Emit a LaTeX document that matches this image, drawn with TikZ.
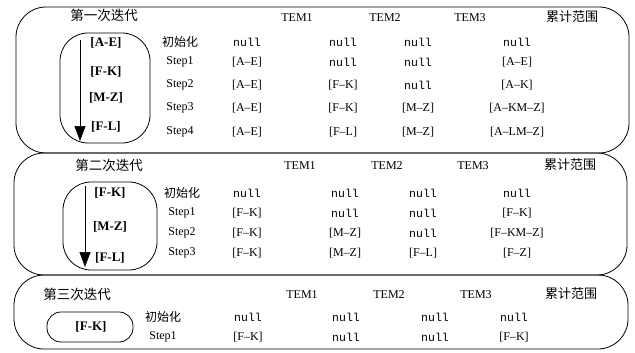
\documentclass[tikz,border=0pt]{standalone}
\usepackage{fontspec}
\setmainfont{Liberation Serif}
\setmonofont{Liberation Mono}
\newfontfamily\cjk{Noto Sans CJK SC}
\usetikzlibrary{arrows.meta}
\begin{document}
\begin{tikzpicture}[x=1pt,y=-1pt,
  frame/.style={draw, line width=0.8pt, rounded corners=30pt},
  lane/.style={draw, line width=0.8pt, rounded corners=28pt},
  pill/.style={draw, line width=0.8pt, rounded corners=14pt},
  title/.style={font=\cjk\fontsize{13.5}{14}\selectfont, inner sep=0pt},
  head/.style={font=\fontsize{12}{12}\selectfont, inner sep=0pt},
  sumhead/.style={font=\cjk\fontsize{13}{14}\selectfont, inner sep=0pt},
  initlbl/.style={font=\cjk\fontsize{12}{13}\selectfont, inner sep=0pt},
  steplbl/.style={font=\fontsize{12}{13}\selectfont, inner sep=0pt},
  cell/.style={font=\fontsize{12}{13}\selectfont, inner sep=0pt},
  nullcell/.style={font=\ttfamily\fontsize{11.5}{12}\selectfont, inner sep=0pt},
  seglabel/.style={font=\bfseries\fontsize{13}{14}\selectfont, inner sep=0pt},
  flow/.style={line width=0.7pt, -{Triangle[length=15pt,width=11pt]}}
]
\useasboundingbox (0,0) rectangle (635,353);

% ---------- outer frames ----------
\draw[frame] (16,7) rectangle (629,153);
\draw[frame] (14,153) rectangle (627,275);
\draw[frame] (14,275) rectangle (628,349);

% ---------- iteration 1 ----------
\node[title] (t1) at (104,15) {第一次迭代};
\node[head] (h1a) at (297,18) {TEM1};
\node[head] (h1b) at (385,18) {TEM2};
\node[head] (h1c) at (470,18) {TEM3};
\node[sumhead] (h1d) at (572,17) {累计范围};

\draw[lane] (60,33) rectangle (150,143);
\node[seglabel] (q1a) at (106,43) {[A-E]};
\node[seglabel] (q1b) at (106,72) {[F-K]};
\node[seglabel] (q1c) at (106,98) {[M-Z]};
\node[seglabel] (q1d) at (106,127) {[F-L]};
\coordinate (f1s) at (80,40);
\coordinate (f1e) at (80,141);
\draw[flow] (f1s) -- (f1e);

\node[initlbl] (l10) at (180,42) {初始化};
\node[steplbl] (l11) at (180,62) {Step1};
\node[steplbl] (l12) at (180,85) {Step2};
\node[steplbl] (l13) at (180,108) {Step3};
\node[steplbl] (l14) at (180,132) {Step4};

\node[nullcell] (c10a) at (247,42) {null};
\node[nullcell] (c10b) at (343,42) {null};
\node[nullcell] (c10c) at (418,42) {null};
\node[nullcell] (c10d) at (517,42) {null};

\node[cell] (c11a) at (247,62) {[A–E]};
\node[nullcell] (c11b) at (343,62) {null};
\node[nullcell] (c11c) at (418,62) {null};
\node[cell] (c11d) at (517,62) {[A–E]};

\node[cell] (c12a) at (247,85) {[A–E]};
\node[cell] (c12b) at (343,85) {[F–K]};
\node[nullcell] (c12c) at (418,85) {null};
\node[cell] (c12d) at (517,85) {[A–K]};

\node[cell] (c13a) at (247,108) {[A–E]};
\node[cell] (c13b) at (343,108) {[F–K]};
\node[cell] (c13c) at (418,108) {[M–Z]};
\node[cell] (c13d) at (517,108) {[A–KM–Z]};

\node[cell] (c14a) at (247,132) {[A–E]};
\node[cell] (c14b) at (343,132) {[F–L]};
\node[cell] (c14c) at (418,132) {[M–Z]};
\node[cell] (c14d) at (517,132) {[A–LM–Z]};

% ---------- iteration 2 ----------
\node[title] (t2) at (109,165) {第二次迭代};
\node[head] (h2a) at (300,166) {TEM1};
\node[head] (h2b) at (387,166) {TEM2};
\node[head] (h2c) at (473,166) {TEM3};
\node[sumhead] (h2d) at (570,165) {累计范围};

\draw[lane] (63,182) rectangle (157,270);
\node[seglabel] (q2a) at (110,193) {[F-K]};
\node[seglabel] (q2b) at (110,227) {[M-Z]};
\node[seglabel] (q2c) at (110,258) {[F-L]};
\coordinate (f2s) at (85,186);
\coordinate (f2e) at (85,267);
\draw[flow] (f2s) -- (f2e);

\node[initlbl] (l20) at (182,193) {初始化};
\node[steplbl] (l21) at (182,213) {Step1};
\node[steplbl] (l22) at (182,233) {Step2};
\node[steplbl] (l23) at (182,253) {Step3};

\node[nullcell] (c20a) at (247,193) {null};
\node[nullcell] (c20b) at (345,193) {null};
\node[nullcell] (c20c) at (423,193) {null};
\node[nullcell] (c20d) at (517,193) {null};

\node[cell] (c21a) at (247,213) {[F–K]};
\node[nullcell] (c21b) at (345,213) {null};
\node[nullcell] (c21c) at (423,213) {null};
\node[cell] (c21d) at (517,213) {[F–K]};

\node[cell] (c22a) at (247,233) {[F–K]};
\node[cell] (c22b) at (345,233) {[M–Z]};
\node[nullcell] (c22c) at (423,233) {null};
\node[cell] (c22d) at (517,233) {[F–KM–Z]};

\node[cell] (c23a) at (247,253) {[F–K]};
\node[cell] (c23b) at (345,253) {[M–Z]};
\node[cell] (c23c) at (423,253) {[F–L]};
\node[cell] (c23d) at (517,253) {[F–Z]};

% ---------- iteration 3 ----------
\node[title] (t3) at (77,294) {第三次迭代};
\node[head] (h3a) at (302,295) {TEM1};
\node[head] (h3b) at (389,295) {TEM2};
\node[head] (h3c) at (476,295) {TEM3};
\node[sumhead] (h3d) at (571,294) {累计范围};

\draw[pill] (47,312) rectangle (133,342);
\node[seglabel] (q3a) at (91,327) {[F-K]};

\node[initlbl] (l30) at (163,317) {初始化};
\node[steplbl] (l31) at (163,337) {Step1};

\node[nullcell] (c30a) at (248,317) {null};
\node[nullcell] (c30b) at (346,317) {null};
\node[nullcell] (c30c) at (435,317) {null};
\node[nullcell] (c30d) at (514,317) {null};

\node[cell] (c31a) at (248,337) {[F–K]};
\node[nullcell] (c31b) at (346,337) {null};
\node[nullcell] (c31c) at (435,337) {null};
\node[cell] (c31d) at (514,337) {[F–K]};
\end{tikzpicture}
\end{document}
